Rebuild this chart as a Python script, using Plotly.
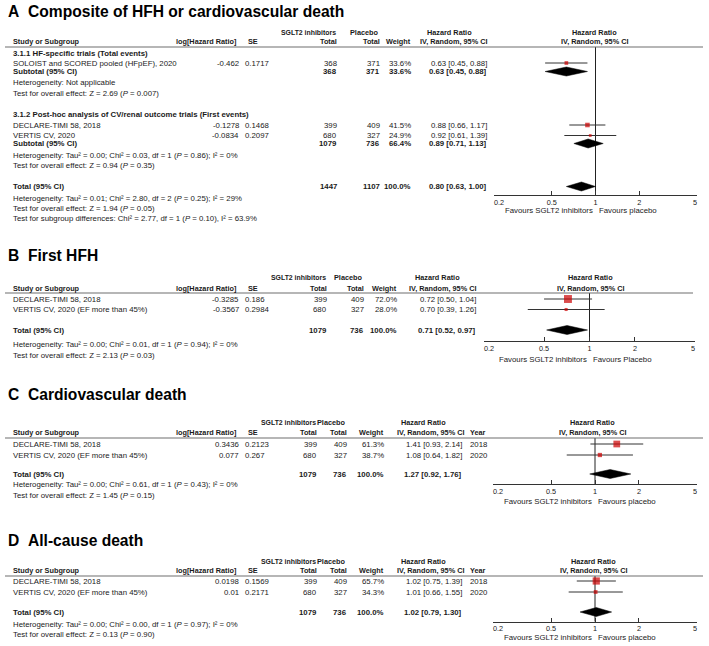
import math
import plotly.graph_objects as go

# ======================= DATA =======================
TICK_VALS = [0.2, 0.5, 1, 2, 5]
TICK_TEXT = ["\u00a0\u00a0\u00a0\u00a0\u00a00.2", "0.5", "1", "2", "5\u00a0\u00a0"]
COL_HEAD = ["Study or Subgroup", "log[Hazard Ratio]", "SE", "Total", "Total", "Weight",
            "IV, Random, 95% CI", "Year"]

# ---- Panel A: Composite of HFH or cardiovascular death ----
A_title = "Composite of HFH or cardiovascular death"
A_groups = ["3.1.1 HF-specific trials (Total events)",
            "3.1.2 Post-hoc analysis of CV/renal outcome trials (First events)"]
A_studies = ["SOLOIST and SCORED pooled (HFpEF), 2020", "DECLARE-TIMI 58, 2018", "VERTIS CV, 2020"]
A_study_group = [0, 1, 1]
A_loghr = [-0.462, -0.1278, -0.0834]
A_se = [0.1717, 0.1468, 0.2097]
A_n_sglt2 = [368, 399, 680]
A_n_placebo = [371, 409, 327]
A_weight = [33.6, 41.5, 24.9]
A_hr = [0.63, 0.88, 0.92]
A_lo = [0.45, 0.66, 0.61]
A_hi = [0.88, 1.17, 1.39]
A_sub_n_sglt2 = [368, 1079]
A_sub_n_placebo = [371, 736]
A_sub_weight = [33.6, 66.4]
A_sub_hr = [0.63, 0.89]
A_sub_lo = [0.45, 0.71]
A_sub_hi = [0.88, 1.13]
A_sub_het = ["Heterogeneity: Not applicable",
             "Heterogeneity: Tau² = 0.00; Chi² = 0.03, df = 1 (<i>P</i> = 0.86); I² = 0%"]
A_sub_test = ["Test for overall effect: Z = 2.69 (<i>P</i> = 0.007)",
              "Test for overall effect: Z = 0.94 (<i>P</i> = 0.35)"]
A_tot = [1447, 1107, 100.0, 0.80, 0.63, 1.00]   # n sglt2, n placebo, weight, HR, lo, hi
A_tot_notes = ["Heterogeneity: Tau² = 0.01; Chi² = 2.80, df = 2 (<i>P</i> = 0.25); I² = 29%",
               "Test for overall effect: Z = 1.94 (<i>P</i> = 0.05)",
               "Test for subgroup differences: Chi² = 2.77, df = 1 (<i>P</i> = 0.10), I² = 63.9%"]
A_favours = ["Favours SGLT2 inhibitors", "Favours placebo"]

# ---- Panel B: First HFH ----
B_title = "First HFH"
B_studies = ["DECLARE-TIMI 58, 2018", "VERTIS CV, 2020 (EF more than 45%)"]
B_loghr = [-0.3285, -0.3567]
B_se = [0.186, 0.2984]
B_n_sglt2 = [399, 680]
B_n_placebo = [409, 327]
B_weight = [72.0, 28.0]
B_hr = [0.72, 0.70]
B_lo = [0.50, 0.39]
B_hi = [1.04, 1.26]
B_year = None
B_tot = [1079, 736, 100.0, 0.71, 0.52, 0.97]
B_notes = ["Heterogeneity: Tau² = 0.00; Chi² = 0.01, df = 1 (<i>P</i> = 0.94); I² = 0%",
           "Test for overall effect: Z = 2.13 (<i>P</i> = 0.03)"]
B_favours = ["Favours SGLT2 inhibitors", "Favours Placebo"]

# ---- Panel C: Cardiovascular death ----
C_title = "Cardiovascular death"
C_studies = ["DECLARE-TIMI 58, 2018", "VERTIS CV, 2020 (EF more than 45%)"]
C_loghr = [0.3436, 0.077]
C_se = [0.2123, 0.267]
C_n_sglt2 = [399, 680]
C_n_placebo = [409, 327]
C_weight = [61.3, 38.7]
C_hr = [1.41, 1.08]
C_lo = [0.93, 0.64]
C_hi = [2.14, 1.82]
C_year = [2018, 2020]
C_tot = [1079, 736, 100.0, 1.27, 0.92, 1.76]
C_notes = ["Heterogeneity: Tau² = 0.00; Chi² = 0.61, df = 1 (<i>P</i> = 0.43); I² = 0%",
           "Test for overall effect: Z = 1.45 (<i>P</i> = 0.15)"]
C_favours = ["Favours SGLT2 inhibitors", "Favours placebo"]

# ---- Panel D: All-cause death ----
D_title = "All-cause death"
D_studies = ["DECLARE-TIMI 58, 2018", "VERTIS CV, 2020 (EF more than 45%)"]
D_loghr = [0.0198, 0.01]
D_se = [0.1569, 0.2171]
D_n_sglt2 = [399, 680]
D_n_placebo = [409, 327]
D_weight = [65.7, 34.3]
D_hr = [1.02, 1.01]
D_lo = [0.75, 0.66]
D_hi = [1.39, 1.55]
D_year = [2018, 2020]
D_tot = [1079, 736, 100.0, 1.02, 0.79, 1.30]
D_notes = ["Heterogeneity: Tau² = 0.00; Chi² = 0.00, df = 1 (<i>P</i> = 0.97); I² = 0%",
           "Test for overall effect: Z = 0.13 (<i>P</i> = 0.90)"]
D_favours = ["Favours SGLT2 inhibitors", "Favours placebo"]

# ======================= STYLE / LAYOUT =======================
W, H = 709, 646
FONT = "Liberation Sans, Arial, sans-serif"
FS = 7.8
HEAD_FS = 7.3
SGLT_FS = 6.9
TICK_FS = 7.3
TITLE_FS = 15.6
TXT = "#1a1a1a"
RED = "#cc0000"
RULE = "#6e6e6e"
DIA_H = 4.5
SQ_SCALE = 0.11

LAY = {
    "A": dict(title_y=12, h1=32, h2=42, rule=47, rule_x1=703, ax=(494, 697), axis_y=195, fav_y=210.5,
              c_log=240, c_se=244, c_n1=338, c_n2=381, c_w=412, c_hr=488, hr_head=449, fp_head=594,
              c_year=None),
    "B": dict(title_y=255, h1=277, h2=288, rule=293, rule_x1=693, ax=(484, 695), axis_y=341, fav_y=359,
              c_log=240, c_se=244, c_n1=328, c_n2=365, c_w=398, c_hr=477, hr_head=437, fp_head=590,
              c_year=None, rows=[299, 309.5], tot_y=330, notes_y=[344, 355]),
    "C": dict(title_y=395, h1=422, h2=432.5, rule=438, rule_x1=703, ax=(493, 697), axis_y=484, fav_y=501,
              c_log=240, c_se=244, c_n1=318, c_n2=348, c_w=385, c_hr=463, hr_head=423, fp_head=592,
              c_year=469, rows=[444, 455], tot_y=474, notes_y=[484, 495]),
    "D": dict(title_y=540, h1=561, h2=570.5, rule=576, rule_x1=703, ax=(493, 697), axis_y=621.5, fav_y=637,
              c_log=240, c_se=244, c_n1=318, c_n2=348, c_w=385, c_hr=463, hr_head=423, fp_head=593,
              c_year=469, rows=[581, 592], tot_y=612, notes_y=[624, 634]),
}
A_rows = dict(group_y=[53, 114], study_y=[63, 125, 135.5], sub_y=[71.5, 143.5],
              sub_het_y=[82, 155], sub_test_y=[93, 165], tot_y=186.5, notes_y=[198, 209, 219])

fig = go.Figure()
ann = []
shapes = []


def text(x, y, s, anchor="left", bold=False, size=FS, color=TXT):
    if bold:
        s = f"<b>{s}</b>"
    ann.append(dict(xref="paper", yref="paper", x=x / W, y=1 - y / H, text=s, showarrow=False,
                    xanchor=anchor, yanchor="middle", borderpad=0,
                    font=dict(family=FONT, size=size, color=color)))


def fmt_hr(h, l, u):
    return f"{h:.2f} [{l:.2f}, {u:.2f}]"


def header(L, letter, title, with_year):
    text(7, L["title_y"], letter, bold=True, size=TITLE_FS, color="#000")
    text(27, L["title_y"], title, bold=True, size=TITLE_FS, color="#000")
    text(L["c_n1"] - 1, L["h1"], "SGLT2 inhibitors", "right", True, SGLT_FS)
    text(L["c_n2"] - 1, L["h1"], "Placebo", "right", True, HEAD_FS)
    text(L["hr_head"], L["h1"], "Hazard Ratio", "center", True, HEAD_FS)
    text(L["fp_head"], L["h1"], "Hazard Ratio", "center", True, HEAD_FS)
    y = L["h2"]
    text(12, y, COL_HEAD[0], "left", True, HEAD_FS)
    text(L["c_log"] - 2, y, COL_HEAD[1], "right", True, HEAD_FS)
    text(259, y, COL_HEAD[2], "right", True, HEAD_FS)
    text(L["c_n1"], y, COL_HEAD[3], "right", True, HEAD_FS)
    text(L["c_n2"], y, COL_HEAD[4], "right", True, HEAD_FS)
    text(L["c_w"], y, COL_HEAD[5], "right", True, HEAD_FS)
    text(L["c_hr"] + (2 if with_year else 0), y, COL_HEAD[6], "right", True, HEAD_FS)
    if with_year:
        text(L["c_year"], y, COL_HEAD[7], "left", True, HEAD_FS)
    text(L["fp_head"], y, COL_HEAD[6], "center", True, HEAD_FS)
    shapes.append(dict(type="line", xref="paper", yref="paper", x0=5 / W, x1=L["rule_x1"] / W,
                       y0=1 - L["rule"] / H, y1=1 - L["rule"] / H, line=dict(color=RULE, width=1.2)))


def study_row(L, y, name, lg, se, n1, n2, w, h, l, u, year=None, bold=False):
    text(12, y, name, "left", bold)
    if lg is not None:
        text(L["c_log"], y, str(lg), "right")
        text(L["c_se"], y, str(se), "left")
    text(L["c_n1"], y, str(n1), "right", bold)
    text(L["c_n2"], y, str(n2), "right", bold)
    text(L["c_w"], y, f"{w:.1f}%", "right", bold)
    text(L["c_hr"], y, fmt_hr(h, l, u), "right", bold)
    if year is not None:
        text(L["c_year"], y, str(year), "left")


def axis_name(i):
    return "x" if i == 1 else f"x{i}"


def forest(i, L, ys, hr, lo, hi, w, d_ys, d_hr, d_lo, d_hi, fav):
    xa = axis_name(i)
    common = dict(xaxis=xa, yaxis="y", hoverinfo="skip", showlegend=False)
    fig.add_trace(go.Scatter(x=[1, 1], y=[L["rule"], L["axis_y"]], mode="lines",
                             line=dict(color="#222", width=1), **common))
    xs, yy = [], []
    for y, l, u in zip(ys, lo, hi):
        xs += [l, u, None]
        yy += [y, y, None]
    fig.add_trace(go.Scatter(x=xs, y=yy, mode="lines", line=dict(color="#333", width=1), **common))
    fig.add_trace(go.Scatter(x=hr, y=ys, mode="markers",
                             marker=dict(symbol="square", color=RED, size=[v * SQ_SCALE for v in w],
                                         line=dict(width=0)), **common))
    for y, m, l, u in zip(d_ys, d_hr, d_lo, d_hi):
        fig.add_trace(go.Scatter(x=[l, m, u, m, l], y=[y, y - DIA_H, y, y + DIA_H, y], mode="lines",
                                 fill="toself", fillcolor="#000", line=dict(color="#000", width=0.5),
                                 **common))
    ref = "x" if i == 1 else f"x{i}"
    ann.append(dict(xref=ref, yref="paper", x=0, y=1 - L["fav_y"] / H, xshift=-2, text=fav[0],
                    showarrow=False, xanchor="right", yanchor="middle", borderpad=0,
                    font=dict(family=FONT, size=FS, color=TXT)))
    ann.append(dict(xref=ref, yref="paper", x=0, y=1 - L["fav_y"] / H, xshift=2, text=fav[1],
                    showarrow=False, xanchor="left", yanchor="middle", borderpad=0,
                    font=dict(family=FONT, size=FS, color=TXT)))


# ---------------- Panel A ----------------
LA = LAY["A"]
header(LA, "A", A_title, False)
for g in range(2):
    text(12, A_rows["group_y"][g], A_groups[g], "left", True)
    for k in range(len(A_studies)):
        if A_study_group[k] == g:
            study_row(LA, A_rows["study_y"][k], A_studies[k], A_loghr[k], A_se[k], A_n_sglt2[k],
                      A_n_placebo[k], A_weight[k], A_hr[k], A_lo[k], A_hi[k])
    study_row(LA, A_rows["sub_y"][g], "Subtotal (95% CI)", None, None, A_sub_n_sglt2[g],
              A_sub_n_placebo[g], A_sub_weight[g], A_sub_hr[g], A_sub_lo[g], A_sub_hi[g], bold=True)
    text(12, A_rows["sub_het_y"][g], A_sub_het[g])
    text(12, A_rows["sub_test_y"][g], A_sub_test[g])
study_row(LA, A_rows["tot_y"], "Total (95% CI)", None, None, A_tot[0], A_tot[1], A_tot[2],
          A_tot[3], A_tot[4], A_tot[5], bold=True)
for y, s in zip(A_rows["notes_y"], A_tot_notes):
    text(12, y, s)
forest(1, LA, A_rows["study_y"], A_hr, A_lo, A_hi, A_weight,
       A_rows["sub_y"] + [A_rows["tot_y"]], A_sub_hr + [A_tot[3]], A_sub_lo + [A_tot[4]],
       A_sub_hi + [A_tot[5]], A_favours)


# ---------------- Panels B, C, D ----------------
def simple_panel(i, letter, title, studies, lg, se, n1, n2, w, hr, lo, hi, years, tot, notes, fav):
    L = LAY[letter]
    header(L, letter, title, years is not None)
    for k in range(len(studies)):
        study_row(L, L["rows"][k], studies[k], lg[k], se[k], n1[k], n2[k], w[k], hr[k], lo[k], hi[k],
                  None if years is None else years[k])
    study_row(L, L["tot_y"], "Total (95% CI)", None, None, tot[0], tot[1], tot[2], tot[3], tot[4],
              tot[5], bold=True)
    for y, s in zip(L["notes_y"], notes):
        text(12, y, s)
    forest(i, L, L["rows"], hr, lo, hi, w, [L["tot_y"]], [tot[3]], [tot[4]], [tot[5]], fav)


simple_panel(2, "B", B_title, B_studies, B_loghr, B_se, B_n_sglt2, B_n_placebo, B_weight, B_hr, B_lo,
             B_hi, B_year, B_tot, B_notes, B_favours)
simple_panel(3, "C", C_title, C_studies, C_loghr, C_se, C_n_sglt2, C_n_placebo, C_weight, C_hr, C_lo,
             C_hi, C_year, C_tot, C_notes, C_favours)
simple_panel(4, "D", D_title, D_studies, D_loghr, D_se, D_n_sglt2, D_n_placebo, D_weight, D_hr, D_lo,
             D_hi, D_year, D_tot, D_notes, D_favours)

# ---------------- axes ----------------
layout_axes = {}
for i, letter in enumerate(["A", "B", "C", "D"], start=1):
    L = LAY[letter]
    key = "xaxis" if i == 1 else f"xaxis{i}"
    layout_axes[key] = dict(type="log", range=[math.log10(TICK_VALS[0]), math.log10(TICK_VALS[-1])],
                            domain=[L["ax"][0] / W, L["ax"][1] / W], anchor="free",
                            position=1 - L["axis_y"] / H, tickvals=TICK_VALS, ticktext=TICK_TEXT,
                            ticks="inside", ticklen=4, tickwidth=1, tickcolor="#333",
                            showline=True, linecolor="#333", linewidth=1, showgrid=False,
                            zeroline=False, fixedrange=True, automargin=False,
                            tickfont=dict(family=FONT, size=TICK_FS, color=TXT))

fig.update_layout(
    template="none",
    width=W, height=H, margin=dict(l=0, r=0, t=0, b=0, pad=0, autoexpand=False),
    paper_bgcolor="white", plot_bgcolor="rgba(0,0,0,0)",
    yaxis=dict(range=[H, 0], domain=[0, 1], visible=False, fixedrange=True, automargin=False),
    annotations=ann, shapes=shapes, showlegend=False,
    **layout_axes,
)
fig.write_html("out.html", config={"displayModeBar": False, "staticPlot": True},
               post_script="document.body.style.margin='0px';document.body.style.padding='0px';")
